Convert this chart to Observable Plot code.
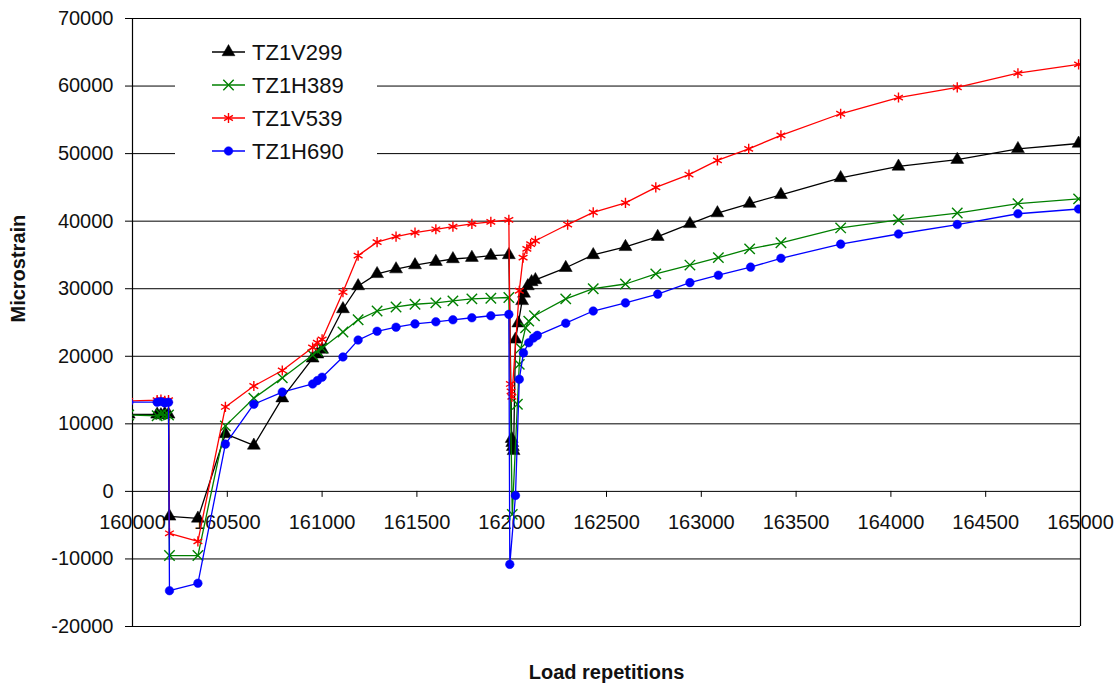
<!DOCTYPE html>
<html>
<head>
<meta charset="utf-8">
<script src="https://cdn.jsdelivr.net/npm/d3@7"></script>
<script src="https://cdn.jsdelivr.net/npm/@observablehq/plot@0.6"></script>
<style>
  html, body { margin: 0; padding: 0; background: #fff; }
  #wrap { position: relative; width: 1120px; height: 686px; font-family: "Liberation Sans", Arial, sans-serif; }
  #legend { position: absolute; left: 175px; top: 25px; }
</style>
</head>
<body>
<div id="wrap"></div>
<script>
// ---- data ----
const seriesNames = ["TZ1V299", "TZ1H389", "TZ1V539", "TZ1H690"];
const seriesColors = ["#000000", "#008000", "#ff0000", "#0000ff"];
const seriesSymbols = ["triangle", "times", "asterisk", "circle"];

const xTicks = [160000,160500,161000,161500,162000,162500,163000,163500,164000,164500,165000];
const yTicks = [-20000,-10000,0,10000,20000,30000,40000,50000,60000,70000];

// shared load repetitions before the 162000 event
const repsEarly = [159980,160130,160150,160170,160190,160195,160345,160490,160640,160790,160950,160975,161000,
  161110,161190,161290,161390,161490,161600,161690,161790,161890,161985];

const v299Early = [11400,11400,11300,11500,11400,-3700,-4000,8500,6800,13800,19700,20300,21000,
  27000,30400,32200,32900,33500,34000,34400,34600,34900,35000];
const v299LateX = [162000,162003,162006,162010,162020,162035,162055,162065,162085,162105,162125,
  162285,162430,162600,162770,162940,163085,163255,163420,163735,164040,164350,164670,164990];
const v299Late = [7800,7200,6600,6000,22500,24900,28200,29300,30400,31000,31300,
  33100,35000,36200,37700,39600,41200,42600,43900,46400,48100,49100,50700,51500];

const h389Early = [11300,11200,11400,11300,11300,-9500,-9500,9700,13800,16800,20200,20800,21200,
  23600,25400,26700,27300,27700,27900,28200,28500,28600,28700];
const h389LateX = [162003,162030,162040,162048,162073,162090,162120,
  162285,162430,162600,162760,162940,163090,163255,163420,163735,164040,164350,164670,164990];
const h389Late = [-3400,12900,18800,21200,24200,25200,26000,
  28500,30000,30700,32200,33500,34600,35900,36800,39000,40200,41200,42600,43300];

const v539Early = [13400,13500,13600,13400,13500,-6200,-7400,12500,15600,17900,21300,22000,22500,
  29500,34900,36900,37700,38300,38800,39200,39600,39900,40200];
const v539LateX = [161993,161997,162001,162040,162060,162080,162100,162125,
  162295,162430,162600,162760,162935,163085,163250,163420,163735,164040,164350,164670,164990];
const v539Late = [15900,14800,14000,29700,34600,35900,36600,37100,
  39500,41300,42700,45000,46900,49000,50700,52700,55900,58300,59800,61900,63200];

const h690Early = [13200,13200,13300,13100,13200,-14700,-13600,7000,12900,14700,15900,16400,16900,
  19900,22400,23700,24300,24800,25100,25400,25700,26000,26200];
const h690LateX = [161990,162020,162040,162062,162090,162115,162135,
  162285,162430,162600,162770,162940,163090,163260,163420,163735,164040,164350,164670,164990];
const h690Late = [-10800,-600,16600,20500,22000,22700,23100,
  24900,26700,27900,29200,30900,32000,33200,34500,36600,38100,39500,41100,41800];

// ---- build tables ----
function build(name, earlyY, lateX, lateY) {
  const xs = repsEarly.concat(lateX), ys = earlyY.concat(lateY);
  return xs.map((x, i) => ({series: name, x, y: ys[i]}));
}
const tables = [
  build(seriesNames[0], v299Early, v299LateX, v299Late),
  build(seriesNames[1], h389Early, h389LateX, h389Late),
  build(seriesNames[2], v539Early, v539LateX, v539Late),
  build(seriesNames[3], h690Early, h690LateX, h690Late)
];

const font = "'Liberation Sans', Arial, sans-serif";
const marks = [
  Plot.gridY(yTicks, {stroke: "#000", strokeOpacity: 1, strokeWidth: 1}),
  Plot.ruleX([160000, 165000], {stroke: "#000", strokeWidth: 1.2}),
  Plot.axisY(yTicks, {tickSize: 7, tickPadding: 12, fontSize: 20, fill: "#111", tickFormat: d => String(d), label: null}),
  // x axis drawn along y = 0
  Plot.ruleX(xTicks, {x: d => d, y1: () => 0, y2: () => 0, insetTop: 0, insetBottom: -6, stroke: "#000"}),
  Plot.text(xTicks, {x: d => d, y: () => 0, text: d => String(d), dy: 31, fontSize: 20, fill: "#111"}),
  Plot.text(["Microstrain"], {frameAnchor: "left", dx: -114, rotate: -90, fontSize: 20, fontWeight: "bold", fill: "#111"}),
  Plot.text(["Load repetitions"], {frameAnchor: "bottom", dy: 52, fontSize: 20, fontWeight: "bold", fill: "#111"})
];
tables.forEach((t, i) => {
  marks.push(Plot.line(t, {x: "x", y: "y", stroke: seriesColors[i], strokeWidth: 1.3, clip: true}));
  const sym = seriesSymbols[i];
  const filled = sym === "triangle" || sym === "circle";
  marks.push(Plot.dot(t, {
    x: "x", y: "y", symbol: () => sym, r: sym === "circle" ? 4.3 : 4.8,
    fill: filled ? seriesColors[i] : "none",
    stroke: seriesColors[i], strokeWidth: filled ? 0.5 : 1.4, clip: true
  }));
});

const chart = Plot.plot({
  width: 1120, height: 686,
  marginLeft: 132, marginRight: 40, marginTop: 18, marginBottom: 60,
  style: {fontFamily: font, background: "#fff"},
  x: {domain: [160000, 165000], axis: null},
  y: {domain: [-20000, 70000], axis: null},
  symbol: {domain: seriesSymbols, range: seriesSymbols},
  marks
});
document.getElementById("wrap").appendChild(chart);

// ---- legend (inside the plot area, top-left) ----
const lg = d3.select("#wrap").append("svg").attr("id", "legend")
  .attr("width", 202).attr("height", 148).style("font-family", font);
lg.append("rect").attr("width", 202).attr("height", 148).attr("fill", "#fff");
const symMap = {triangle: d3.symbolTriangle, times: d3.symbolTimes, asterisk: d3.symbolAsterisk, circle: d3.symbolCircle};
seriesNames.forEach((name, i) => {
  const g = lg.append("g").attr("transform", `translate(0,${27 + i * 33})`);
  g.append("line").attr("x1", 37).attr("x2", 70).attr("stroke", seriesColors[i]).attr("stroke-width", 1.3);
  const sym = seriesSymbols[i];
  const filled = sym === "triangle" || sym === "circle";
  const r = sym === "circle" ? 4.3 : 4.8;
  g.append("path").attr("transform", "translate(53.5,0)")
    .attr("d", d3.symbol(symMap[sym], Math.PI * r * r)())
    .attr("fill", filled ? seriesColors[i] : "none")
    .attr("stroke", seriesColors[i]).attr("stroke-width", filled ? 0.5 : 1.4);
  g.append("text").attr("x", 77).attr("y", 0).attr("dy", "0.35em")
    .attr("font-size", 22).attr("fill", "#111").text(name);
});
</script>
</body>
</html>
